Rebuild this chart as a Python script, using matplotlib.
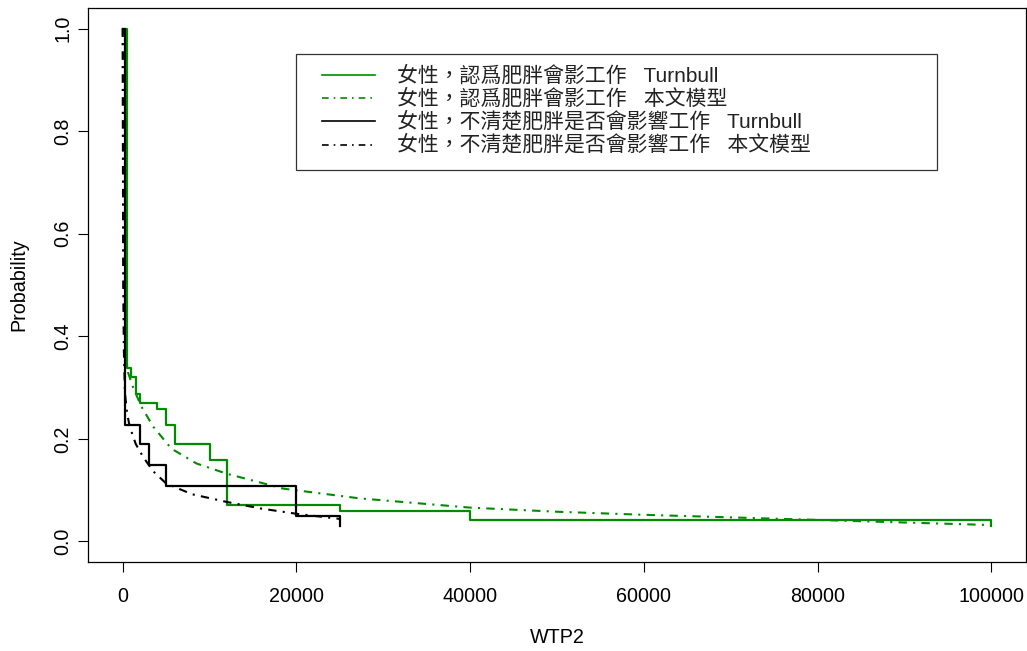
"""Survival curves of WTP2: Turnbull estimates vs. the fitted model."""

import numpy as np
import matplotlib
matplotlib.use("Agg")
import matplotlib.pyplot as plt
from matplotlib.patches import Rectangle

plt.rcParams["font.family"] = ["Liberation Sans", "Noto Sans CJK TC", "DejaVu Sans"]

# ── Data ──────────────────────────────────────────────

# women who think obesity affects work
green_tb_x = [0, 500, 1000, 1500, 2000, 4000, 5000, 6000, 10000, 12000, 25000, 40000, 100000]
green_tb_p = [1.0, 0.338, 0.320, 0.288, 0.270, 0.258, 0.227, 0.191, 0.158, 0.072, 0.059, 0.041, 0.030]

green_model_x = [0, 30, 80, 150, 300, 600, 1200, 2150, 3500, 5600, 8500, 12000,
                 18500, 27300, 40000, 50000, 60000, 70000, 80000, 90000, 100000]
green_model_p = [1.0, 0.80, 0.55, 0.45, 0.37, 0.33, 0.30, 0.263, 0.224, 0.181, 0.152, 0.132,
                 0.103, 0.084, 0.066, 0.058, 0.052, 0.047, 0.042, 0.037, 0.032]

# women unsure whether obesity affects work
black_tb_x = [0, 300, 2000, 3000, 5000, 20000, 25000]
black_tb_p = [1.0, 0.228, 0.191, 0.149, 0.108, 0.050, 0.031]

black_model_x = [0, 20, 60, 120, 250, 500, 800, 1500, 2340, 3500, 5000, 8000,
                 12000, 16000, 20000, 25000]
black_model_p = [1.0, 0.75, 0.50, 0.38, 0.29, 0.25, 0.224, 0.19, 0.165, 0.137, 0.113, 0.092,
                 0.077, 0.064, 0.054, 0.044]

legend_labels = [
    "女性，認爲肥胖會影工作   Turnbull",
    "女性，認爲肥胖會影工作   本文模型",
    "女性，不清楚肥胖是否會影響工作   Turnbull",
    "女性，不清楚肥胖是否會影響工作   本文模型",
]

x_ticks = [0, 20000, 40000, 60000, 80000, 100000]
y_ticks = [0.0, 0.2, 0.4, 0.6, 0.8, 1.0]

# ── Plot ──────────────────────────────────────────────

GREEN = "#008B00"
DOTDASH = (0, (4, 3, 1, 3))
AX_L, AX_R, AX_T, AX_B = 88, 1026, 8, 562

fig = plt.figure(figsize=(10.27, 6.51), dpi=100)
ax = fig.add_axes([AX_L / 1027, 1 - AX_B / 651, (AX_R - AX_L) / 1027, (AX_B - AX_T) / 651])

ax.step(green_tb_x, green_tb_p, where="post", color=GREEN, lw=1.6)
ax.plot(green_model_x, green_model_p, color=GREEN, lw=1.5, linestyle=DOTDASH)
ax.step(black_tb_x, black_tb_p, where="post", color="black", lw=1.6)
ax.plot(black_model_x, black_model_p, color="black", lw=1.5, linestyle=DOTDASH)

ax.set_xlim(-4000, 104000)
ax.set_ylim(-0.04, 1.04)
ax.set_xticks(x_ticks)
ax.set_xticklabels([str(v) for v in x_ticks])
ax.set_yticks(y_ticks)
ax.set_yticklabels([f"{v:.1f}" for v in y_ticks], rotation=90, va="center")
ax.tick_params(axis="x", length=7, width=0.8, pad=11, labelsize=14.2)
ax.tick_params(axis="y", length=7, width=0.8, pad=4, labelsize=14.2)
ax.set_xlabel("WTP2", fontsize=14.2, labelpad=16)
ax.set_ylabel("Probability", fontsize=14.2, labelpad=18)
for sp in ax.spines.values():
    sp.set_linewidth(0.9)


# ── Legend (drawn by hand, R style box) ───────────────

def fx(px):
    return (px - AX_L) / (AX_R - AX_L)


def fy(py):
    return 1 - (py - AX_T) / (AX_B - AX_T)


ax.add_patch(Rectangle((fx(296), fy(170)), fx(937) - fx(296), fy(54) - fy(170),
                       transform=ax.transAxes, fill=False, edgecolor="#333333", lw=0.9))
row_y = [75.4, 98.5, 121.4, 144.6]
styles = [(GREEN, "-"), (GREEN, DOTDASH), ("black", "-"), ("black", DOTDASH)]
for yy, (col, ls), lab in zip(row_y, styles, legend_labels):
    ax.plot([fx(322), fx(375)], [fy(yy), fy(yy)], transform=ax.transAxes,
            color=col, linestyle=ls, lw=1.2)
    ax.text(fx(397), fy(yy), lab, transform=ax.transAxes, fontsize=15,
            va="center", ha="left", color="#222222")

fig.savefig("out.png", dpi=100)
plt.close(fig)
